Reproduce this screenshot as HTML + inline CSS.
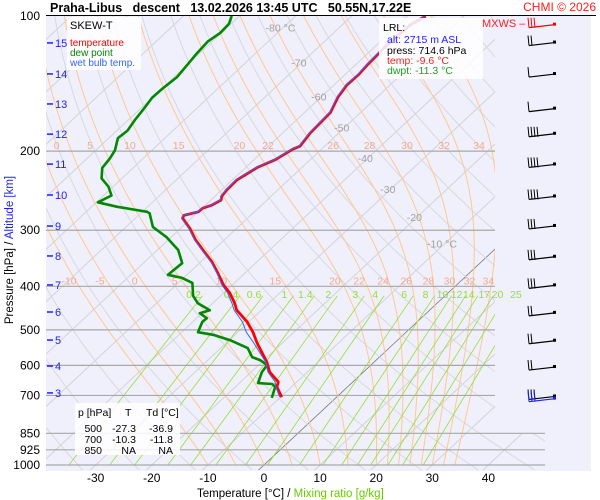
<!DOCTYPE html>
<html><head><meta charset="utf-8">
<style>
html,body{margin:0;padding:0;background:#fff;}
svg{display:block;font-family:"Liberation Sans",sans-serif;}
</style></head>
<body>
<svg id="chart" width="600" height="500" viewBox="0 0 600 500" xmlns="http://www.w3.org/2000/svg">
<defs><clipPath id="clipGrid"><polygon points="46,16 495,16 495,433 545,433 545,470 46,470"/></clipPath></defs>
<rect x="46" y="16" width="545" height="455" fill="#f0f0fc"/>
<g id="grid" clip-path="url(#clipGrid)"></g>
<g id="labels"></g>
<g id="axes"></g>
<g id="profiles"></g>
<g id="barbs"></g>

<text x="50" y="12" font-size="12.5" font-weight="bold" fill="#000" xml:space="preserve">Praha-Libus   descent   13.02.2026 13:45 UTC   50.55N,17.22E</text>
<text x="596" y="11" font-size="12" fill="#ff2020" text-anchor="end">CHMI © 2026</text>
<line x1="46" y1="15.5" x2="596" y2="15.5" stroke="#000" stroke-width="1"/>

<g>
<rect x="67" y="17" width="74" height="53" fill="#fff" opacity="0.85"/>
<text x="70" y="29" font-size="11" fill="#000">SKEW-T</text>
<text x="70" y="46" font-size="10" fill="#ff0000">temperature</text>
<text x="70" y="56" font-size="10" fill="#008800">dew point</text>
<text x="70" y="66" font-size="10" fill="#3366ff">wet bulb temp.</text>
</g>

<g>
<rect x="379" y="18" width="104" height="61" fill="#fff" opacity="0.85"/>
<text x="383" y="31" font-size="10.5" fill="#000">LRL:</text>
<text x="387" y="43" font-size="10.5" fill="#2020ff">alt: 2715 m ASL</text>
<text x="387" y="54" font-size="10.5" fill="#000">press: 714.6 hPa</text>
<text x="387" y="64" font-size="10.5" fill="#ff2020">temp: -9.6 °C</text>
<text x="387" y="74" font-size="10.5" fill="#20a020">dwpt: -11.3 °C</text>
</g>

<g font-size="10.5" fill="#000">
<rect x="75" y="403" width="105" height="52" fill="#fff" opacity="0.85"/>
<text x="78" y="416">p [hPa]</text><text x="125" y="416">T</text><text x="146" y="416">Td [°C]</text>
<text x="102" y="432" text-anchor="end">500</text><text x="136" y="432" text-anchor="end">-27.3</text><text x="173" y="432" text-anchor="end">-36.9</text>
<text x="102" y="443" text-anchor="end">700</text><text x="136" y="443" text-anchor="end">-10.3</text><text x="173" y="443" text-anchor="end">-11.8</text>
<text x="102" y="454" text-anchor="end">850</text><text x="136" y="454" text-anchor="end">NA</text><text x="173" y="454" text-anchor="end">NA</text>
</g>

<text x="482" y="27" font-size="11" fill="#ff2020">MXWS –</text>

<text transform="translate(13,250) rotate(-90)" font-size="11.5" text-anchor="middle"><tspan fill="#000">Pressure [hPa]  /  </tspan><tspan fill="#2020ff">Altitude [km]</tspan></text>
<text x="197" y="497" font-size="11.5"><tspan fill="#000">Temperature [°C]  /  </tspan><tspan fill="#66cc00">Mixing ratio [g/kg]</tspan></text>
</svg>

<script>
// ---- data ----
var tempP = [706,670,653,621,590,535,506,480,452,436,414,397,374,353,332,315,297,282,278,273,268,264,257,252,244,232,226,217,209,198,195,182,164,151.5,142.5,135,128.5,123.4,116,104.7,100];
var tempT = [-9.8,-12.6,-13.3,-16.7,-19.1,-24.5,-27.3,-30.3,-34.4,-36.1,-38.9,-41.6,-44.8,-48.0,-51.9,-55.2,-58.4,-61.6,-61.9,-60.0,-59.9,-58.9,-58.2,-58.8,-59.1,-59.2,-58.7,-57.9,-56.2,-55.1,-54.4,-55.1,-55.4,-57.0,-57.7,-57.6,-57.9,-58.0,-58.2,-57.9,-56.8];
var dewP = [709,670,660,657,621,599,584,575,549,527,513,506,480,471,459,452,436,420,393,383,377,355,332,311,295,275,273,266,260,251,240,230,218,207,199,187,180,170.5,162,152,145,137,128.5,121,114,109,104,100];
var dewT = [-11.4,-12.9,-14.0,-16.7,-18.1,-18.5,-20.7,-22.7,-25.2,-29.9,-33.9,-37.1,-38.3,-38.2,-40.4,-39.2,-42.7,-44.9,-47.5,-50.3,-53.4,-53.1,-56.3,-60.8,-65.2,-68.4,-69.1,-75.4,-79.7,-78.6,-80.8,-83.6,-85.5,-86.0,-86.6,-88.4,-88.1,-88.8,-89.3,-90.0,-89.9,-89.5,-90.0,-90.5,-90.8,-90.2,-90.4,-91.4];
var pressureTicks = [100,200,300,400,500,600,700,850,925,1000];
var tempTicks = [-30,-20,-10,0,10,20,30,40];
var altKm = [15,14,13,12,11,10,9,8,7,6,5,4,3];
var altP = [114.8,134.6,157,183.3,213.7,250.4,293.6,342.3,397.2,456.3,526.9,602,691];
var isoLabelT = [-80,-70,-60,-50,-40,-30,-20,-10];
var isoLabelP = [106,127,151,177,207,243,280,321];
var thetaW = [-10,-5,0,5,10,15,20,22,24,26,28,30,32,34];
var mixRatios = [0.2,0.4,0.6,1,1.4,2,3,4,6,8,10,12,14,17,20,25];
var windP = [114,134,160,182,213,251,292,342,396,456,526,602,700];
var windFlags = [2,1,1,4,4,4,3,3,3,2,2,2,3];

// ---- scales ----
var NS='http://www.w3.org/2000/svg';
function yP(p){return 16+(Math.log10(p)-2)*449;}
function xT(t,p){return 264+5.61*t+1.07*(465-yP(p));}
function mk(tag,attrs,parent){var e=document.createElementNS(NS,tag);for(var k in attrs)e.setAttribute(k,attrs[k]);parent.appendChild(e);return e;}
var grid=document.getElementById('grid'),labels=document.getElementById('labels'),prof=document.getElementById('profiles'),axes=document.getElementById('axes'),barbs=document.getElementById('barbs');

function polyline(pts,stroke,w,parent,name){
  var d=pts.map(function(q,i){return (i?'L':'M')+q[0].toFixed(1)+','+q[1].toFixed(1);}).join('');
  var e=mk('path',{d:d,fill:'none',stroke:stroke,'stroke-width':w,'stroke-linejoin':'round'},parent);
  
  
  return e;
}

// isotherms
for(var t=-130;t<=40;t+=10){
  polyline([[xT(t,1050),yP(1050)],[xT(t,100),yP(100)]], t===0?'#777':'#d2d2d8', t===0?0.8:1, grid,'isotherm');
}
// dry adiabats
for(var th=230;th<=480;th+=10){
  var pts=[];for(var p=1050;p>=100;p-=10){var T=th*Math.pow(p/1000,0.2857)-273.15;pts.push([xT(T,p),yP(p)]);}
  polyline(pts,'#d8d8dc',1,grid,'dry-adiabat');
}
// pseudo-adiabats
function es(tc){return 6.112*Math.exp(17.67*tc/(tc+243.5));}
function moist(tw){
  var T=tw+273.15,pts=[],p=1000;pts.push([xT(tw,1000),yP(1000)]);
  while(p>100){var dp=-2,e=es(T-273.15),rs=0.622*e/(p-e);
    var dTdp=(287*T+2.5e6*rs)/(1004+2.5e6*2.5e6*rs*0.622/(287*T*T))/p;
    T+=dTdp*dp;p+=dp;if(Math.round(p)%10===0)pts.push([xT(T-273.15,p),yP(p)]);}
  return pts;
}
thetaW.forEach(function(tw){polyline(moist(tw),'#ffc890',1,grid,'moist-adiabat');});
// mixing ratio lines
function tdFromW(w,p){var e=w*p/(622+w),l=Math.log(e/6.112);return 243.5*l/(17.67-l);}
mixRatios.forEach(function(w){
  polyline([[xT(tdFromW(w,420),420),yP(420)],[xT(tdFromW(w,1000),1000),yP(1000)]],'#99dd33',0.8,grid,'mixing-ratio-line');
});
// pressure lines
pressureTicks.forEach(function(p){
  if(p===100)return;
  var x2=p>=850?545:495;
  var l=mk('line',{x1:46,y1:yP(p),x2:x2,y2:yP(p),stroke:'#a8a8a8','stroke-width':1.2},axes);
  
  
  var tx=mk('text',{x:40,y:yP(p)+4,'font-size':12,'text-anchor':'end',fill:'#000'},axes);tx.textContent=p;
  
  
});
var t100=mk('text',{x:40,y:20,'font-size':12,'text-anchor':'end',fill:'#000'},axes);t100.textContent='100';


// temperature ticks
tempTicks.forEach(function(t){
  var tx=mk('text',{x:xT(t,1000),y:482,'font-size':12,'text-anchor':'middle',fill:'#000'},axes);tx.textContent=t;
  
  
});
// altitude ticks
altKm.forEach(function(k,i){
  var y=yP(altP[i]);
  var l=mk('line',{x1:47,y1:y,x2:53,y2:y,stroke:'#2020ff','stroke-width':1.5},axes);
  
  
  var tx=mk('text',{x:55,y:y+4,'font-size':11,fill:'#2020ff'},axes);tx.textContent=k;
  
  
});
// isotherm labels
isoLabelT.forEach(function(t,i){
  var p=isoLabelP[i];
  var tx=mk('text',{x:xT(t,p)-3,y:yP(p)+4,'font-size':10.5,fill:'#a0a0a0','text-anchor':'middle'},labels);
  tx.textContent=(i===0||i===7)?t+' °C':t;
  
  
});
// moist adiabat labels at 200 and 400 hPa
function labelMoist(tw,p,off){
  var pts=moist(tw),best=null,target=yP(p)-8;
  pts.forEach(function(q){var dd=Math.abs(q[1]-target);if(dd<4&&(!best||dd<Math.abs(best[1]-target)))best=q;});
  if(!best)return;
  var x=best[0]+off;
  if(x>492||x<48)return;
  var tx=mk('text',{x:x,y:yP(p)-2,'font-size':10.5,fill:'#f8a888','text-anchor':'middle'},labels);tx.textContent=tw;
  
  
}
thetaW.forEach(function(tw){labelMoist(tw,400,-4);if(tw>=0&&tw!==24)labelMoist(tw,200,-11);});
// mixing ratio labels
mixRatios.forEach(function(w){
  var tx=mk('text',{x:xT(tdFromW(w,420),420)-9,y:298,'font-size':10.5,fill:'#99dd33','text-anchor':'middle'},labels);tx.textContent=w;
  
  
});

// profiles
function interpDew(p){
  for(var i=0;i+1 < dewP.length;i++){if(p<=dewP[i]&&p>=dewP[i+1]){var f=(Math.log(p)-Math.log(dewP[i]))/(Math.log(dewP[i+1])-Math.log(dewP[i]));return dewT[i]+f*(dewT[i+1]-dewT[i]);}}
  return p>dewP[0]?dewT[0]:dewT[dewT.length-1];
}
var dewPts=dewP.map(function(p,i){return [xT(dewT[i],p),yP(p)];});
var tPts=tempP.map(function(p,i){return [xT(tempT[i],p),yP(p)];});
var wPts=tempP.map(function(p,i){
  var k=0.12*Math.max(0,Math.min(1,(tempT[i]+45)/20));
  var tw=tempT[i]-k*(tempT[i]-interpDew(p));return [xT(tw,p)-0.8,yP(p)];});
polyline(dewPts,'#008800',2.6,prof,'dewpoint-line');
polyline(tPts,'#ff0000',2.8,prof,'temperature-line');
polyline(wPts,'#3366ff',1,prof,'wet-bulb-line');

// wind barbs
function barb(p,n,color){
  var y=yP(p),g=mk('g',{},barbs);
  
  
  mk('path',{d:'M529,'+(y+4)+' L555,'+(y+1),stroke:color,'stroke-width':1.2,fill:'none'},g);
  mk('rect',{x:553,y:y-1,width:3,height:3,fill:color},g);
  for(var k=0;k<n;k++){var x=529+k*3;mk('line',{x1:x,y1:y+4,x2:x-1,y2:y-6,stroke:color,'stroke-width':1},g);}
}
windP.forEach(function(p,i){barb(p,windFlags[i],'#000');});
barb(104,3,'#ff0000');
barb(708,3,'#2020ff');
</script>
</body></html>
